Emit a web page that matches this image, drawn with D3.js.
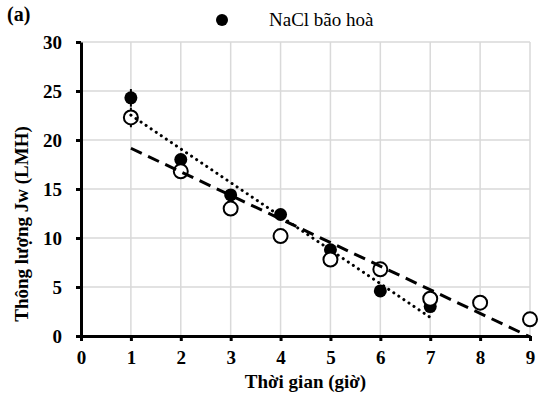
<!DOCTYPE html>
<style>
    body {
        margin: 0;
        background: #fff;
    }
    svg text {
        font-family: "Liberation Serif", "Times New Roman", serif;
    }
</style>
<div id="container"></div>
<script src="https://cdn.jsdelivr.net/npm/d3@7"></script>
<script>
    // data
    const hours = [1, 2, 3, 4, 5, 6, 7, 8, 9];
    const saturated = [24.3, 18.0, 14.4, 12.4, 8.8, 4.6, 3.0];   // filled dots, NaCl bão hoà
    const saturatedErr = [0.9, 0.3, 0.3, 0.3, 0.3, 0.3, 0.3];
    const other = [22.3, 16.8, 13.0, 10.2, 7.8, 6.8, 3.8, 3.4, 1.7]; // open circles
    const otherErr = [1.0, 0.3, 0.3, 0.3, 0.3, 0.3, 0.3, 0.3, 0.3];
    const xTicks = [0, 1, 2, 3, 4, 5, 6, 7, 8, 9];
    const yTicks = [0, 5, 10, 15, 20, 25, 30];

    const width = 559, height = 397;
    const margin = {top: 42, right: 29, bottom: 61, left: 81};

    const svg = d3.select("#container").append("svg")
        .attr("width", width)
        .attr("height", height);

    const x = d3.scaleLinear().domain([0, 9]).range([margin.left, width - margin.right]);
    const y = d3.scaleLinear().domain([0, 30]).range([height - margin.bottom, margin.top]);

    // grid
    const grid = svg.append("g").attr("stroke", "#d9d9d9").attr("stroke-width", 1.5);
    xTicks.filter(d => d > 0).forEach(d => {
        grid.append("line").attr("x1", x(d)).attr("x2", x(d)).attr("y1", y(0)).attr("y2", y(30));
    });
    yTicks.filter(d => d > 0).forEach(d => {
        grid.append("line").attr("x1", x(0)).attr("x2", x(9)).attr("y1", y(d)).attr("y2", y(d));
    });

    // axes
    const xAxis = svg.append("g")
        .attr("transform", `translate(0,${y(0)})`)
        .call(d3.axisBottom(x).tickValues(xTicks).tickSize(5).tickSizeOuter(0).tickPadding(10));
    const yAxis = svg.append("g")
        .attr("transform", `translate(${x(0)},0)`)
        .call(d3.axisLeft(y).tickValues(yTicks).tickSize(5).tickSizeOuter(0).tickPadding(14));

    [xAxis, yAxis].forEach(a => {
        a.attr("font-family", null);
        a.select(".domain").attr("stroke", "#000").attr("stroke-width", 3);
        a.selectAll(".tick line").attr("stroke", "#000").attr("stroke-width", 3);
        a.selectAll(".tick text")
            .attr("fill", "#000")
            .style("font-size", "19px")
            .style("font-weight", "bold");
    });

    // linear fit (least squares), like the spreadsheet trendline
    function linFit(xs, ys) {
        const n = ys.length;
        const mx = d3.mean(xs.slice(0, n)), my = d3.mean(ys);
        let sxy = 0, sxx = 0;
        for (let i = 0; i < n; i++) {
            sxy += (xs[i] - mx) * (ys[i] - my);
            sxx += (xs[i] - mx) ** 2;
        }
        const b = sxy / sxx;
        return v => my + b * (v - mx);
    }

    // error bars
    function errBars(vals, errs) {
        vals.forEach((v, i) => {
            svg.append("line")
                .attr("x1", x(hours[i])).attr("x2", x(hours[i]))
                .attr("y1", y(v - errs[i])).attr("y2", y(v + errs[i]))
                .attr("stroke", "#000").attr("stroke-width", 2);
        });
    }
    errBars(saturated, saturatedErr);
    errBars(other, otherErr);

    // markers
    svg.append("g").selectAll("circle")
        .data(saturated)
        .join("circle")
        .attr("cx", (d, i) => x(hours[i]))
        .attr("cy", d => y(d))
        .attr("r", 6.5)
        .attr("fill", "#000");

    svg.append("g").selectAll("circle")
        .data(other)
        .join("circle")
        .attr("cx", (d, i) => x(hours[i]))
        .attr("cy", d => y(d))
        .attr("r", 7)
        .attr("fill", "#fff")
        .attr("stroke", "#000")
        .attr("stroke-width", 2);

    // trendlines
    const fitA = linFit(hours, saturated);
    const fitB = linFit(hours, other);
    svg.append("line")
        .attr("x1", x(1)).attr("y1", y(fitA(1)))
        .attr("x2", x(7)).attr("y2", y(fitA(7)))
        .attr("stroke", "#000").attr("stroke-width", 3)
        .attr("stroke-linecap", "round")
        .attr("stroke-dasharray", "0.1 6");
    svg.append("line")
        .attr("x1", x(1)).attr("y1", y(fitB(1)))
        .attr("x2", x(9)).attr("y2", y(fitB(9)))
        .attr("stroke", "#000").attr("stroke-width", 3)
        .attr("stroke-dasharray", "12 7");

    // legend
    svg.append("circle").attr("cx", 222).attr("cy", 20).attr("r", 6).attr("fill", "#000");
    svg.append("text").attr("x", 269).attr("y", 26)
        .style("font-size", "19px")
        .text("NaCl bão hoà");

    // panel label and axis titles
    svg.append("text").attr("x", 7).attr("y", 21)
        .style("font-size", "20px").style("font-weight", "bold")
        .text("(a)");
    svg.append("text")
        .attr("x", (x(0) + x(9)) / 2).attr("y", 388)
        .attr("text-anchor", "middle")
        .style("font-size", "19px").style("font-weight", "bold")
        .text("Thời gian (giờ)");
    svg.append("text")
        .attr("transform", `translate(28,224) rotate(-90)`)
        .attr("text-anchor", "middle")
        .style("font-size", "19px").style("font-weight", "bold")
        .text("Thông lượng Jw (LMH)");
</script>
